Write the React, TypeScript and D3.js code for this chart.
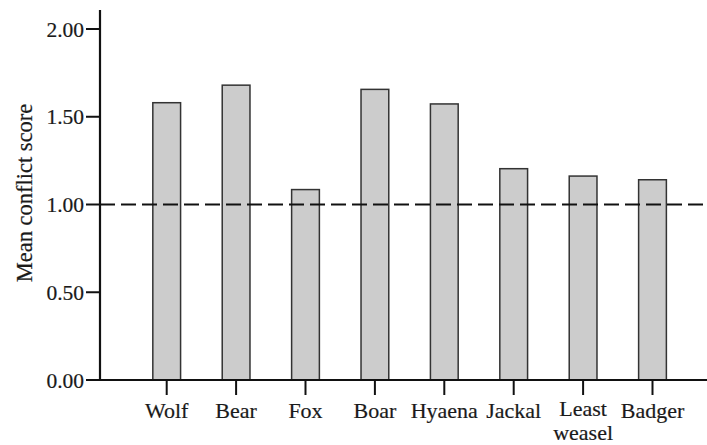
import React from "react";
import * as d3 from "d3";

const categories = ["Wolf", "Bear", "Fox", "Boar", "Hyaena", "Jackal", "Least weasel", "Badger"];
const values = [1.58, 1.68, 1.085, 1.656, 1.573, 1.204, 1.162, 1.141];
const yTicks = [0, 0.5, 1, 1.5, 2];
const refValue = 1.0;

export default function App() {
  const W = 707, H = 445;
  const axisX = 100;
  const y = d3.scaleLinear().domain([0, 2]).range([380, 29]);
  const x = d3.scaleBand<string>().domain(categories).range([132, 687.2]).paddingInner(0.6).paddingOuter(0.3);
  const font = "'Liberation Serif', 'Times New Roman', serif";
  return (
    <svg width={W} height={H} style={{ position: "absolute", left: 0, top: 0, background: "#fff" }}>
      {categories.map((c, i) => (
        <rect key={c} x={x(c)} y={y(values[i])} width={x.bandwidth()} height={y(0) - y(values[i])}
          fill="#cccccc" stroke="#333" strokeWidth={1.5} />
      ))}
      <line x1={axisX} x2={W} y1={y(refValue)} y2={y(refValue)} stroke="#111" strokeWidth={2} strokeDasharray="15,6" />
      {/* y axis */}
      <line x1={axisX} x2={axisX} y1={10} y2={y(0) + 1} stroke="#111" strokeWidth={2.2} />
      {yTicks.map(t => (
        <g key={t}>
          <line x1={86} x2={axisX} y1={y(t)} y2={y(t)} stroke="#111" strokeWidth={2} />
          <text x={84} y={y(t)} dy="0.35em" textAnchor="end" fontFamily={font} fontSize={21.5} fill="#1a1a1a" stroke="#1a1a1a" strokeWidth={0.2}>{t.toFixed(2)}</text>
        </g>
      ))}
      {/* x axis */}
      <line x1={axisX - 1} x2={W} y1={y(0)} y2={y(0)} stroke="#111" strokeWidth={2.2} />
      {categories.map(c => {
        const cx = (x(c) as number) + x.bandwidth() / 2;
        const parts = c === "Least weasel" ? ["Least", "weasel"] : [c];
        const base = parts.length > 1 ? 415.5 : 418;
        return (
          <g key={c}>
            <line x1={cx} x2={cx} y1={y(0)} y2={y(0) + 15} stroke="#111" strokeWidth={2} />
            {parts.map((p, j) => (
              <text key={p} x={cx} y={base + j * 24.5} textAnchor="middle" fontFamily={font} fontSize={22} fill="#1a1a1a" stroke="#1a1a1a" strokeWidth={0.2}>{p}</text>
            ))}
          </g>
        );
      })}
      <text transform={`translate(32,193) rotate(-90)`} textAnchor="middle" fontFamily={font} fontSize={22.5} fill="#1a1a1a" stroke="#1a1a1a" strokeWidth={0.2}>Mean conflict score</text>
    </svg>
  );
}
